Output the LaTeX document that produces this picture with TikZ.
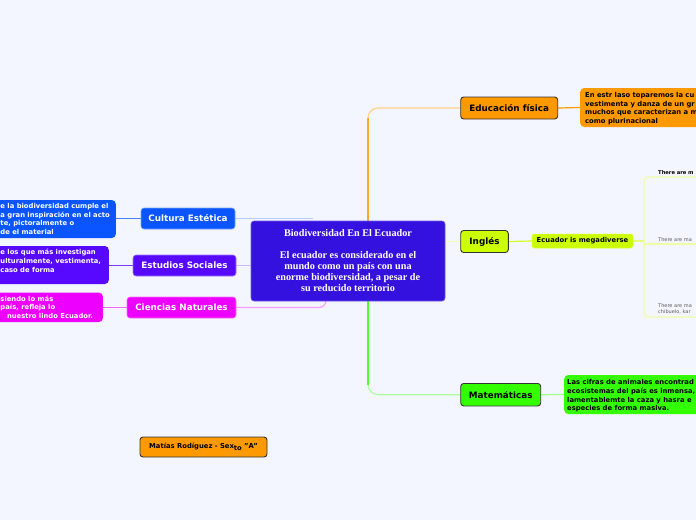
\documentclass[tikz,border=0pt]{standalone}
\usepackage{fontspec}
\setmainfont{DejaVu Sans}
\newfontfamily\cserif{Liberation Serif}
\usetikzlibrary{calc,backgrounds}
\definecolor{bg}{HTML}{F3F6FE}
\definecolor{cen}{HTML}{3411DE}
\definecolor{cblue}{HTML}{0A55FF}
\definecolor{cviol}{HTML}{5708FF}
\definecolor{cmag}{HTML}{EE00FF}
\definecolor{corg}{HTML}{FF9900}
\definecolor{cyel}{HTML}{CCFF00}
\definecolor{cgrn}{HTML}{33FF00}
\definecolor{dk}{HTML}{333333}
\begin{document}
\begin{tikzpicture}[x=1pt,y=-1pt,
  every node/.style={inner sep=0pt},
  rbranch/.style={draw=dk, line width=0.9pt, fill=#1, rounded corners=3pt,
    font=\bfseries\fontsize{8.8}{10}\selectfont, text=black},
  lbranch/.style={draw=#1!55!white, line width=0.6pt, fill=#1, rounded corners=3pt,
    font=\bfseries\fontsize{8.8}{10}\selectfont, text=white},
  textbox/.style={fill=#1, rounded corners=4pt},
  smalltext/.style={font=\bfseries\fontsize{6.8}{8.6}\selectfont, align=left, anchor=west},
  tinytext/.style={font=\fontsize{5}{6.5}\selectfont, text=dk!80!white, align=left,
    anchor=south west, text width=60pt, inner ysep=2.5pt},
  conn/.style={line width=1.2pt},
]
\useasboundingbox (0,0) rectangle (696,520);
\clip (0,0) rectangle (696,520);

% central
\node[fill=cen, draw=cen!70!white, line width=0.6pt, rounded corners=3pt,
  minimum width=194pt, minimum height=80pt, text=white, align=center,
  font=\cserif\bfseries\fontsize{10.2}{11}\selectfont] (central) at (348,261)
  {Biodiversidad En El Ecuador\\[11pt]El ecuador es considerado en el\\mundo como un país con una\\enorme biodiversidad, a pesar de\\su reducido territorio};

% right branches
\node[rbranch=corg, minimum width=97pt, minimum height=22pt] (edu) at (509.2,108) {Educación física};
\node[rbranch=cyel, minimum width=47.6pt, minimum height=22pt] (ing) at (484.5,241.5) {Inglés};
\node[rbranch=cgrn, minimum width=80pt, minimum height=22.5pt] (mat) at (500.7,394.7) {Matemáticas};
\node[fill=cyel, draw=cyel!80!white, line width=0.5pt, rounded corners=2.5pt, minimum width=101pt, minimum height=14pt,
  font=\bfseries\fontsize{6.8}{8}\selectfont] (eim) at (582.5,241) {Ecuador is megadiverse};

\node[textbox=corg, anchor=west, minimum width=150pt, minimum height=39pt] (edubox) at (580,107.5) {};
\node[smalltext] (edutxt) at (585,108.8) {En estr laso toparemos la cu\\vestimenta y danza de un gr\\muchos que caracterizan a m\\como plurinacional};
\node[textbox=cgrn, anchor=west, minimum width=150pt, minimum height=39pt] (matbox) at (564,394.5) {};
\node[smalltext] (mattxt) at (567,396) {Las cifras de animales encontrad\\ecosistemas del país es inmensa,\\lamentablemte la caza y hasra e\\especies de forma masiva.};

% Ingles sub-branches
\coordinate (br) at (644,241);
\node[tinytext, font=\bfseries\fontsize{5.2}{6.5}\selectfont, text=black] (t1) at (658,177) {There are m};
\node[tinytext] (t2) at (658,244) {There are ma};
\node[tinytext] (t3) at (658,317) {There are ma\\chibuelo, kar};

% left branches
\node[lbranch=cblue, minimum width=94pt, minimum height=21pt] (cul) at (188,218.5) {Cultura Estética};
\node[lbranch=cviol, minimum width=103pt, minimum height=21pt] (est) at (184.5,265.5) {Estudios Sociales};
\node[lbranch=cmag, minimum width=109pt, minimum height=21pt] (cie) at (181.5,307.5) {Ciencias Naturales};

\node[textbox=cblue, anchor=east, minimum width=130pt, minimum height=38pt] (culbox) at (116,219) {};
\node[smalltext, text=white] (cultxt) at (0.3,219) {e la biodiversidad cumple el\\a gran inspiración en el acto\\te, pictoralmente o\\de el material};
\node[textbox=cviol, anchor=east, minimum width=130pt, minimum height=38pt] (estbox) at (109,265) {};
\node[smalltext, text=white] (esttxt) at (0.3,265) {e los que más investigan\\ulturalmente, vestimenta,\\caso de forma\\\mbox{}};
\node[textbox=cmag, anchor=east, minimum width=130pt, minimum height=29.5pt] (ciebox) at (103,307.3) {};
\node[smalltext, text=white] (cietxt) at (0.3,307.3) {siendo lo más\\país, refleja lo\\\hspace*{6.5pt}nuestro lindo Ecuador.};

% author
\node[rbranch=corg, minimum width=127pt, minimum height=20pt, font=\bfseries\fontsize{6.8}{8}\selectfont] (auth) at (203.5,447)
  {Matías Rodíguez - Sex\raisebox{-1.3pt}{to} "A"};

\begin{scope}[on background layer]
\fill[bg] (0,0) rectangle (696,520);
% orange
\draw[conn, draw=corg!45!white, rounded corners=10pt] ($(central.north)+(20,0)$) |- (edu.west);
\draw[conn, draw=corg!85!white] ($(central.north)+(20,0)$) -- ($(central.north |- edu.west)+(20,10)$);
% green
\draw[conn, draw=cgrn!40!white, rounded corners=10pt] ($(central.south)+(20,0)$) |- (mat.west);
\draw[conn, draw=cgrn!85!white] ($(central.south)+(20,0)$) -- ($(central.south |- mat.west)+(20,-10)$);
% ingles
\draw[conn, draw=cyel!30!white] (ing.west -| central.east) -- (ing.west);
\draw[conn, draw=cyel!85!white] (ing.east) -- (eim.west);
\draw[conn, draw=cyel!55!white] (eim.east) -- (br);
\draw[conn, draw=cyel!35!white, rounded corners=4pt] (t1.south east) -- (t1.south west -| br) -- (t3.south west -| br) -- (t3.south east);
\draw[conn, draw=cyel!35!white] (t2.south west -| br) -- (t2.south east);
% right boxes
\draw[conn, draw=corg] (edu.east) -- (edubox.west);
\draw[conn, draw=cgrn!45!white] (mat.east) -- (matbox.west);
% left
\draw[conn, draw=cblue!30!white] (cul.east) -- ($(cul.east -| central.north)+(-35,0)$);
\draw[conn, draw=cviol!28!white] (est.east) -- (est.east -| central.west);
\draw[conn, draw=cmag!38!white, rounded corners=7pt] ($(central.south)+(-22,0)$) |- (cie.east);
\draw[conn, draw=cblue!75!white] (culbox.east |- cul.west) -- (cul.west);
\draw[conn, draw=cviol!80!white] (estbox.east |- est.west) -- (est.west);
\draw[conn, draw=cmag!60!white] (ciebox.east |- cie.west) -- (cie.west);
\end{scope}
\end{tikzpicture}
\end{document}
